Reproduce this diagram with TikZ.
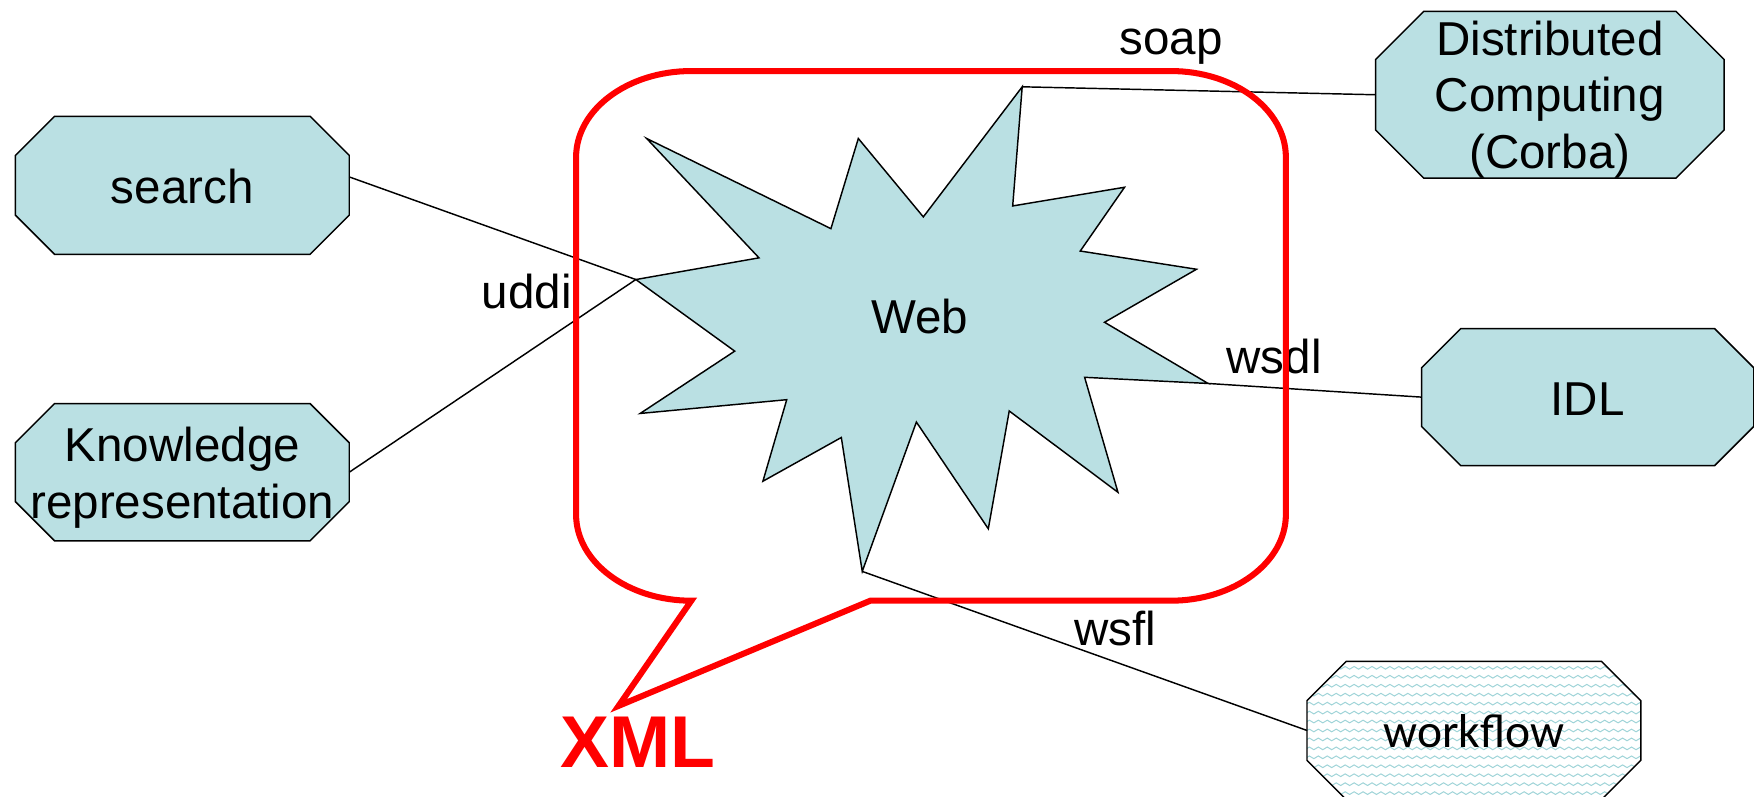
\documentclass[tikz,border=0pt]{standalone}
\usepackage{fontspec}
\setmainfont{Liberation Sans}
\newfontfamily\wffont{Carlito}
\usetikzlibrary{backgrounds,decorations.pathmorphing}
\definecolor{boxfill}{RGB}{186,224,227}
\definecolor{wavecol}{RGB}{160,212,216}
\definecolor{calloutred}{RGB}{255,0,0}
\begin{document}
\begin{tikzpicture}[x=1pt,y=-1pt,
  box/.style={rectangle, draw=none, inner sep=0pt, minimum width=298pt, minimum height=123pt},
  lbl/.style={font=\fontsize{42.5}{51}\selectfont, inner sep=0pt, anchor=base},
  octline/.style={draw=black, line width=1.3pt, line join=miter},
  starline/.style={draw=black, line width=1.3pt, line join=miter, fill=boxfill},
  link/.style={draw=black, line width=1.3pt},
  wave/.style={draw=wavecol, line width=0.9pt, decorate,
    decoration={snake, segment length=8pt, amplitude=1.2pt}},
  callout/.style={draw=calloutred, line width=5.4pt, line join=miter}]
\useasboundingbox (0,0) rectangle (1568,712);

% octagon boxes (outlines are drawn on the background layer below)
\node[box] (search) at (163,165.65) {};
\node[box, minimum height=122.3pt] (know) at (163,422.15) {};
\node[box, minimum width=311pt, minimum height=148.6pt] (dist) at (1385.5,84.7) {};
\node[box, minimum width=296.6pt, minimum height=122pt] (idl) at (1419.3,355) {};
\node[box] (wf) at (1317.6,653) {};

% box texts
\node[lbl] (searchtxt) at (163,181.8) {search};
\node[lbl] (knowtxta) at (163,412.7) {Knowledge};
\node[lbl] (knowtxtb) at (163,463.4) {representation};
\node[lbl] (disttxta) at (1385.5,49.5) {Distributed};
\node[lbl] (disttxtb) at (1385.5,100) {Computing};
\node[lbl] (disttxtc) at (1385.5,150.5) {(Corba)};
\node[lbl] (idltxt) at (1419.3,371) {IDL};
\node[lbl, font=\wffont\fontsize{42.5}{51}\selectfont] (wftxt) at (1317.6,668) {workflow};

\begin{scope}[on background layer]
  \foreach \n/\ch in {search/35pt, know/35pt, dist/43pt, idl/35pt}{
    \draw[octline, fill=boxfill]
      ([xshift=\ch]\n.north west) -- ([xshift=-\ch]\n.north east)
      -- ([yshift=-\ch]\n.north east) -- ([yshift=\ch]\n.south east)
      -- ([xshift=-\ch]\n.south east) -- ([xshift=\ch]\n.south west)
      -- ([yshift=\ch]\n.south west) -- ([yshift=-\ch]\n.north west) -- cycle;
  }
  % wavy fill of the workflow box
  \begin{scope}
    \clip ([xshift=35pt]wf.north west) -- ([xshift=-35pt]wf.north east)
      -- ([yshift=-35pt]wf.north east) -- ([yshift=35pt]wf.south east)
      -- ([xshift=-35pt]wf.south east) -- ([xshift=35pt]wf.south west)
      -- ([yshift=35pt]wf.south west) -- ([yshift=-35pt]wf.north west) -- cycle;
    \foreach \yy in {589,597,...,721} \draw[wave] (1160,\yy) -- (1476,\yy);
  \end{scope}
  \draw[octline]
    ([xshift=35pt]wf.north west) -- ([xshift=-35pt]wf.north east)
    -- ([yshift=-35pt]wf.north east) -- ([yshift=35pt]wf.south east)
    -- ([xshift=-35pt]wf.south east) -- ([xshift=35pt]wf.south west)
    -- ([yshift=35pt]wf.south west) -- ([yshift=-35pt]wf.north west) -- cycle;
\end{scope}

% starburst
\coordinate (s1) at (578.1,123.8);
\coordinate (s2) at (742.8,204.4);
\coordinate (s3) at (767.3,123.8);
\coordinate (s4) at (825.4,193.9);
\coordinate (s5) at (913.8,77.6);
\coordinate (s6) at (905.3,184.1);
\coordinate (s7) at (1005.3,167.4);
\coordinate (s8) at (965.7,224.4);
\coordinate (s9) at (1069.6,240.7);
\coordinate (s10) at (987.4,288.1);
\coordinate (s11) at (1080.0,342.8);
\coordinate (s12) at (969.6,337.3);
\coordinate (s13) at (999.4,440.1);
\coordinate (s14) at (902.2,367.4);
\coordinate (s15) at (883.5,472.7);
\coordinate (s16) at (819.2,377.3);
\coordinate (s17) at (770.8,510.8);
\coordinate (s18) at (752.1,391.1);
\coordinate (s19) at (682.0,430.2);
\coordinate (s20) at (703.3,357.3);
\coordinate (s21) at (572.3,369.6);
\coordinate (s22) at (656.8,313.9);
\coordinate (s23) at (568.4,249.9);
\coordinate (s24) at (678.5,230.5);
\draw[starline] (s1) -- (s2) -- (s3) -- (s4) -- (s5) -- (s6) -- (s7) -- (s8)
  -- (s9) -- (s10) -- (s11) -- (s12) -- (s13) -- (s14) -- (s15) -- (s16)
  -- (s17) -- (s18) -- (s19) -- (s20) -- (s21) -- (s22) -- (s23) -- (s24) -- cycle;
\node[lbl] (web) at (822,298) {Web};

% connectors
\draw[link] ([yshift=7.5pt]search.east) -- (s23);
\draw[link] (know.east) -- (s23);
\draw[link] (s5) -- (dist.west);
\draw[link] (s11) -- (idl.west);
\draw[link] (s17) -- (wf.west);

% connector labels
\node[lbl] (soap) at (1047,49) {soap};
\node[lbl] (uddi) at (471,275.5) {uddi};
\node[lbl] (wsdl) at (1139,334) {wsdl};
\node[lbl] (wsfl) at (997,577) {wsfl};

% XML speech bubble
\draw[callout] (618,537) arc[start angle=270, end angle=180, x radius=103pt, y radius=77pt]
  -- (515,140.5) arc[start angle=180, end angle=90, x radius=103pt, y radius=77pt]
  -- (1046.5,63.5) arc[start angle=90, end angle=0, x radius=103pt, y radius=77pt]
  -- (1149.5,460) arc[start angle=0, end angle=-90, x radius=103pt, y radius=77pt]
  -- (778,537) -- (553,631) -- cycle;
\node[lbl, text=calloutred, font=\bfseries\fontsize{65.6}{70}\selectfont] (xml) at (570.5,686) {XML};
\end{tikzpicture}
\end{document}
